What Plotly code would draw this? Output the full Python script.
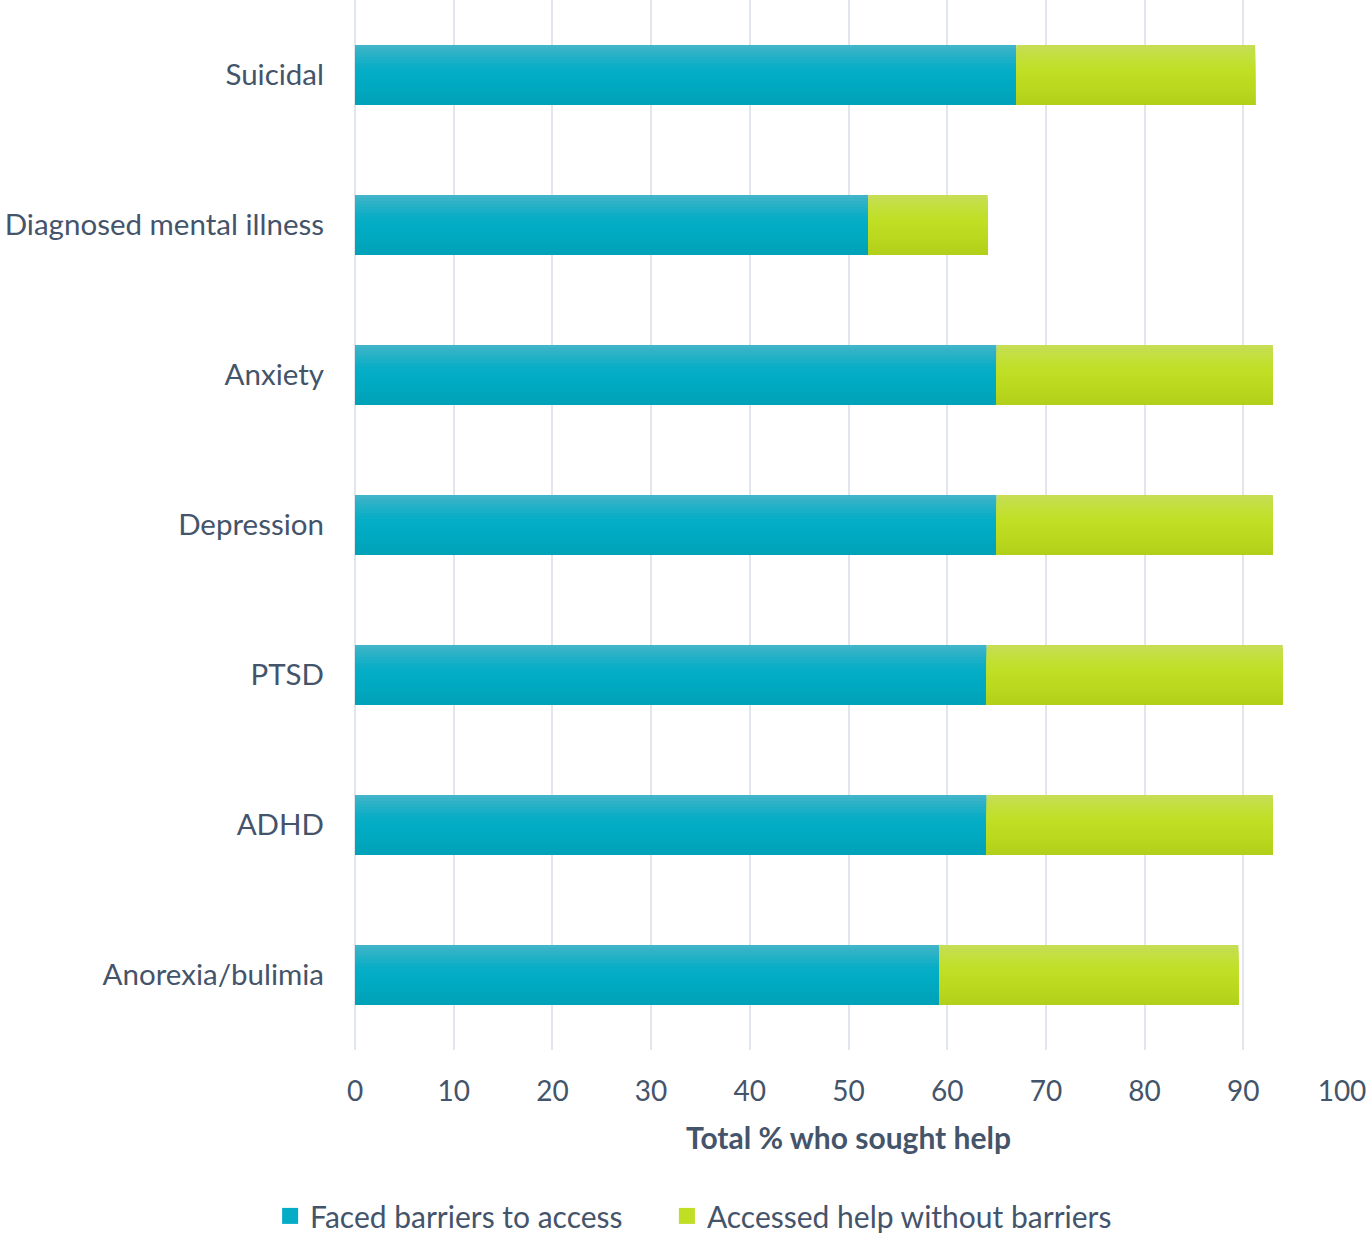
import plotly.graph_objects as go

# Conditions (top to bottom) and percentages of those who sought help
conditions = ["Suicidal", "Diagnosed mental illness", "Anxiety", "Depression",
              "PTSD", "ADHD", "Anorexia/bulimia"]
faced_barriers = [67, 52, 65, 65, 64, 64, 59.2]
no_barriers = [24.2, 12.1, 28, 28, 30, 29, 30.3]

x_ticks = [0, 10, 20, 30, 40, 50, 60, 70, 80, 90, 100]

series_names = ["Faced barriers to access", "Accessed help without barriers"]
# vertical gradient stops (top -> bottom) for each series
teal_stops = ["#44b5c9", "#22b0c7", "#06adc6", "#00abc4", "#00a6bd", "#00a1b6"]
green_stops = ["#c6dd58", "#c3df3c", "#c0df26", "#bddc20", "#b7d61c", "#b1cf1a"]

BAR_W = 0.4
N_STRIPES = 20

fig = go.Figure()


def interp(stops, t):
    # linear blend across colour stops, t in [0, 1]
    pos = t * (len(stops) - 1)
    i = min(int(pos), len(stops) - 2)
    f = pos - i
    a = stops[i].lstrip("#")
    b = stops[i + 1].lstrip("#")
    ca = [int(a[k:k + 2], 16) for k in (0, 2, 4)]
    cb = [int(b[k:k + 2], 16) for k in (0, 2, 4)]
    c = [round(ca[k] + (cb[k] - ca[k]) * f) for k in range(3)]
    return "rgb({},{},{})".format(*c)


def add_gradient_bars(values, base, stops, name, legend_id):
    sw = BAR_W / N_STRIPES
    for s in range(N_STRIPES):
        # each stripe runs from its own top edge down to the bar's bottom,
        # later stripes paint over earlier ones, so no seams appear
        t = (s + 0.5) / N_STRIPES
        offset = -BAR_W / 2 + s * sw
        fig.add_trace(go.Bar(
            y=conditions, x=values, base=base, orientation="h",
            width=BAR_W - s * sw, offset=offset,
            marker=dict(color=interp(stops, t), line=dict(width=0)),
            name=name, legendgroup=name, showlegend=False,
            hoverinfo="skip",
        ))
    # legend swatch
    fig.add_trace(go.Scatter(
        x=[None], y=[None], mode="markers", name=name, legendgroup=name,
        marker=dict(symbol="square", size=18, color=interp(stops, 0.45)),
        showlegend=True, hoverinfo="skip", legend=legend_id,
    ))


add_gradient_bars(faced_barriers, [0] * len(conditions), teal_stops, series_names[0], "legend")
add_gradient_bars(no_barriers, faced_barriers, green_stops, series_names[1], "legend2")

text_color = "#44546a"
font_family = "Lato, 'Open Sans', sans-serif"

legend_common = dict(orientation="h", y=-0.158, yanchor="middle", xanchor="left",
                     font=dict(size=30, color=text_color), itemwidth=30,
                     bgcolor="rgba(0,0,0,0)")

fig.update_layout(
    width=1370, height=1240,
    margin=dict(l=355, r=28, t=0, b=190, autoexpand=False),
    barmode="overlay",
    plot_bgcolor="white", paper_bgcolor="white",
    font=dict(family=font_family, color=text_color, size=29),
    showlegend=True,
    legend=dict(x=-0.086, **legend_common),
    legend2=dict(x=0.316, **legend_common),
    annotations=[dict(text="<b>Total % who sought help</b>", xref="paper", yref="paper",
                      x=0.5, y=-0.083, xanchor="center", yanchor="middle", showarrow=False,
                      font=dict(size=30, color=text_color, family=font_family))],
)

fig.update_xaxes(
    range=[0, 100], tickvals=x_ticks, ticktext=[str(v) for v in x_ticks],
    showgrid=True, gridcolor="#e1e5ec", gridwidth=2,
    zeroline=True, zerolinecolor="#e1e5ec", zerolinewidth=2,
    showline=False, ticks="", ticklabelstandoff=22,
    tickfont=dict(size=28, color=text_color),
)
fig.update_yaxes(
    categoryorder="array", categoryarray=conditions, autorange="reversed",
    showgrid=False, showline=False, ticks="", ticklabelstandoff=30,
    tickfont=dict(size=29.5, color=text_color),
)

fig.write_html("out.html")
